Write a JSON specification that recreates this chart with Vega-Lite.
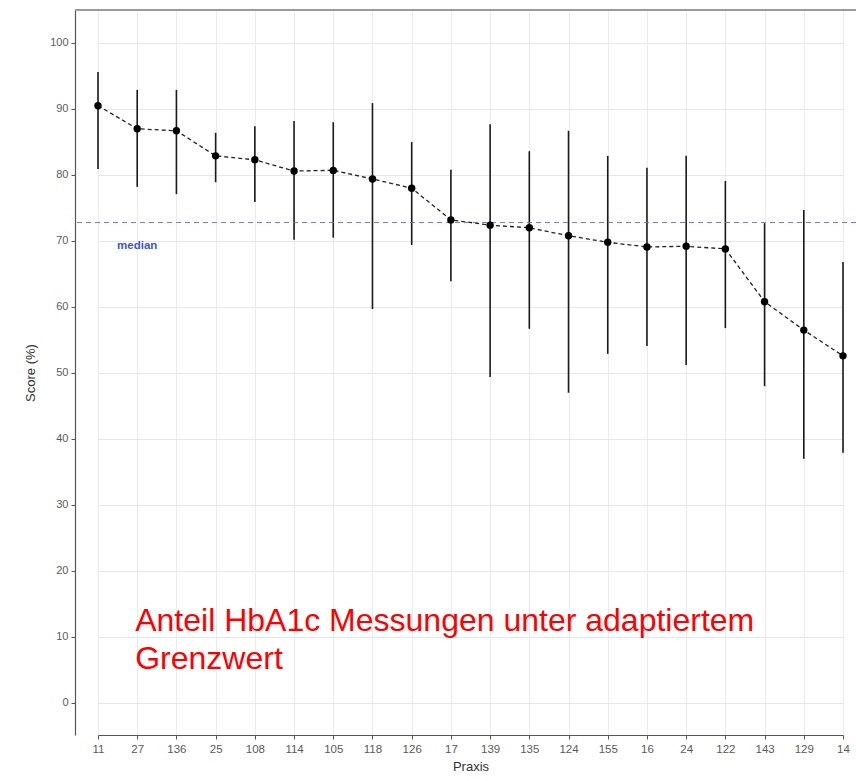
{
  "$schema": "https://vega.github.io/schema/vega-lite/v6.json",
  "width": 781,
  "height": 725,
  "autosize": {"type": "none"},
  "padding": {"left": 75, "top": 10, "right": 0, "bottom": 46},
  "background": "white",
  "config": {
    "font": "Liberation Sans",
    "view": {"stroke": null},
    "axis": {
      "labelFont": "Liberation Sans",
      "titleFont": "Liberation Sans",
      "labelColor": "#5a5a5a",
      "titleColor": "#333333",
      "labelFontSize": 11,
      "titleFontSize": 13,
      "titleFontWeight": "normal",
      "domainColor": "#555555",
      "tickColor": "#555555",
      "gridColor": "#ebebeb"
    }
  },
  "datasets": {
    "praxis": [
      {"Praxis": "11", "score": 90.5, "lo": 80.9, "hi": 95.6},
      {"Praxis": "27", "score": 87.0, "lo": 78.2, "hi": 92.9},
      {"Praxis": "136", "score": 86.7, "lo": 77.1, "hi": 92.9},
      {"Praxis": "25", "score": 82.9, "lo": 78.9, "hi": 86.4},
      {"Praxis": "108", "score": 82.3, "lo": 75.9, "hi": 87.4},
      {"Praxis": "114", "score": 80.6, "lo": 70.2, "hi": 88.2},
      {"Praxis": "105", "score": 80.7, "lo": 70.5, "hi": 88.0},
      {"Praxis": "118", "score": 79.4, "lo": 59.7, "hi": 90.9},
      {"Praxis": "126", "score": 78.0, "lo": 69.4, "hi": 85.0},
      {"Praxis": "17", "score": 73.2, "lo": 63.9, "hi": 80.8},
      {"Praxis": "139", "score": 72.4, "lo": 49.4, "hi": 87.7},
      {"Praxis": "135", "score": 72.0, "lo": 56.7, "hi": 83.6},
      {"Praxis": "124", "score": 70.8, "lo": 47.0, "hi": 86.7},
      {"Praxis": "155", "score": 69.8, "lo": 52.9, "hi": 82.9},
      {"Praxis": "16", "score": 69.1, "lo": 54.1, "hi": 81.1},
      {"Praxis": "24", "score": 69.2, "lo": 51.2, "hi": 82.9},
      {"Praxis": "122", "score": 68.8, "lo": 56.8, "hi": 79.1},
      {"Praxis": "143", "score": 60.8, "lo": 48.0, "hi": 72.7},
      {"Praxis": "129", "score": 56.5, "lo": 37.0, "hi": 74.7},
      {"Praxis": "14", "score": 52.6, "lo": 37.9, "hi": 66.8}
    ]
  },
  "encoding": {
    "x": {
      "field": "Praxis",
      "type": "nominal",
      "sort": null,
      "scale": {
        "type": "point",
        "domain": ["11","27","136","25","108","114","105","118","126","17","139","135","124","155","16","24","122","143","129","14"],
        "range": [23, 768],
        "padding": 0
      },
      "axis": {
        "title": "Praxis",
        "labelAngle": 0,
        "labelPadding": 4,
        "labelFontSize": 11.5,
        "tickSize": 4,
        "titlePadding": 6,
        "grid": true,
        "domainWidth": 1.2
      }
    }
  },
  "layer": [
    {
      "data": {"name": "praxis"},
      "mark": {"type": "rule", "color": "#1a1a1a", "strokeWidth": 1.6},
      "encoding": {
        "y": {
          "field": "lo",
          "type": "quantitative",
          "scale": {"domain": [-4.85, 105], "nice": false, "zero": false},
          "axis": {
            "title": "Score (%)",
            "values": [0,5,10,15,20,25,30,35,40,45,50,55,60,65,70,75,80,85,90,95,100],
            "labelExpr": "datum.value % 10 === 0 ? datum.label : ''",
            "tickOpacity": {"condition": {"test": "datum.value % 10 === 0", "value": 1}, "value": 0},
            "gridColor": {"condition": {"test": "datum.value % 10 === 0", "value": "#e6e6e6"}, "value": "#f2f2f2"},
            "tickSize": 4,
            "labelPadding": 3,
            "titlePadding": 12,
            "domainWidth": 1.2
          }
        },
        "y2": {"field": "hi"}
      }
    },
    {
      "data": {"values": [{}]},
      "mark": {"type": "rule", "color": "#9a9a9a", "strokeWidth": 2},
      "encoding": {
        "x": null,
        "y": {"datum": 105, "type": "quantitative"}
      }
    },
    {
      "data": {"name": "praxis"},
      "mark": {"type": "line", "color": "#222222", "strokeWidth": 1.3, "strokeDash": [4, 3]},
      "encoding": {
        "y": {"field": "score", "type": "quantitative"}
      }
    },
    {
      "data": {"values": [{"median": 72.8}]},
      "mark": {"type": "rule", "color": "#6a6ae0", "strokeWidth": 0.9, "strokeDash": [5, 4]},
      "encoding": {
        "x": null,
        "y": {"field": "median", "type": "quantitative"}
      }
    },
    {
      "data": {"name": "praxis"},
      "mark": {"type": "point", "filled": true, "color": "#000000", "opacity": 1, "size": 55},
      "encoding": {
        "y": {"field": "score", "type": "quantitative"}
      }
    },
    {
      "data": {"values": [{"Praxis": "27", "y": 69.3, "label": "median"}]},
      "mark": {"type": "text", "color": "#3a55d0", "fontSize": 11.5, "fontWeight": "bold", "align": "center", "baseline": "middle"},
      "encoding": {
        "y": {"field": "y", "type": "quantitative"},
        "text": {"field": "label"}
      }
    },
    {
      "data": {"values": [{"Praxis": "27", "y": 10.9, "label": ["Anteil HbA1c Messungen unter adaptiertem", "Grenzwert"]}]},
      "mark": {"type": "text", "color": "#ff0000", "fontSize": 32, "font": "Liberation Sans", "align": "left", "baseline": "alphabetic", "lineHeight": 38, "dx": -2},
      "encoding": {
        "y": {"field": "y", "type": "quantitative"},
        "text": {"field": "label"}
      }
    }
  ]
}
